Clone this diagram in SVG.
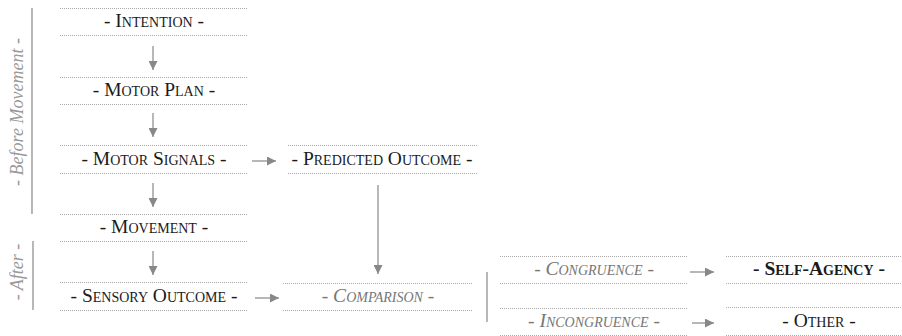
<svg xmlns="http://www.w3.org/2000/svg" width="902" height="336" viewBox="0 0 902 336">
<defs>
<marker id="ah" viewBox="0 0 10 10" refX="10" refY="5" markerWidth="9" markerHeight="9" markerUnits="userSpaceOnUse" orient="auto">
<path d="M0,0 L10,5 L0,10 z" fill="#888"/>
</marker>
<style>
.dot{stroke:#aaa;stroke-width:1;stroke-dasharray:1 1;fill:none}
.t{font-family:'Liberation Serif','DejaVu Serif','Times New Roman',serif;font-size:19.5px;font-variant:small-caps;fill:#1a1a1a;text-anchor:middle}
.i{font-style:italic;fill:#777}
.b{font-weight:bold}
.side{font-family:'Liberation Serif','DejaVu Serif','Times New Roman',serif;font-size:18px;font-style:italic;fill:#999;text-anchor:middle}
.con line{stroke:#888;stroke-width:1.2;marker-end:url(#ah)}
.bar{stroke:#888;stroke-width:1.2}
</style>
</defs>
<rect width="902" height="336" fill="#fff"/>
<g id="phase-before">
<line class="bar" x1="32" y1="8" x2="32" y2="214"/>
<text class="side" transform="translate(23,112) rotate(-90)">- Before Movement -</text>
</g>
<g id="phase-after">
<line class="bar" x1="33" y1="241" x2="33" y2="310"/>
<text class="side" transform="translate(23,272) rotate(-90)">- After -</text>
</g>
<g id="intention">
<line class="dot" x1="60" y1="8.5" x2="248" y2="8.5"/><line class="dot" x1="60" y1="35.5" x2="248" y2="35.5"/>
<text class="t" x="154" y="27">- Intention -</text>
</g>
<g id="motor-plan">
<line class="dot" x1="60" y1="77.5" x2="248" y2="77.5"/><line class="dot" x1="60" y1="104.5" x2="248" y2="104.5"/>
<text class="t" x="154" y="96">- Motor Plan -</text>
</g>
<g id="motor-signals">
<line class="dot" x1="60" y1="145.5" x2="248" y2="145.5"/><line class="dot" x1="60" y1="173.5" x2="248" y2="173.5"/>
<text class="t" x="154" y="165">- Motor Signals -</text>
</g>
<g id="movement">
<line class="dot" x1="60" y1="214.5" x2="248" y2="214.5"/><line class="dot" x1="60" y1="241.5" x2="248" y2="241.5"/>
<text class="t" x="154" y="233">- Movement -</text>
</g>
<g id="sensory-outcome">
<line class="dot" x1="60" y1="282.5" x2="248" y2="282.5"/><line class="dot" x1="60" y1="310.5" x2="248" y2="310.5"/>
<text class="t" x="154" y="302">- Sensory Outcome -</text>
</g>
<g id="predicted-outcome">
<line class="dot" x1="288" y1="145.5" x2="477" y2="145.5"/><line class="dot" x1="288" y1="173.5" x2="477" y2="173.5"/>
<text class="t" x="382" y="165">- Predicted Outcome -</text>
</g>
<g id="comparison">
<line class="dot" x1="283" y1="283.5" x2="472" y2="283.5"/><line class="dot" x1="283" y1="310.5" x2="472" y2="310.5"/>
<text class="t i" x="378" y="302">- Comparison -</text>
</g>
<g id="split">
<line class="bar" x1="487" y1="272" x2="487" y2="322"/>
</g>
<g id="congruence">
<line class="dot" x1="500" y1="256.5" x2="688" y2="256.5"/><line class="dot" x1="500" y1="283.5" x2="688" y2="283.5"/>
<text class="t i" x="594" y="275">- Congruence -</text>
</g>
<g id="incongruence">
<line class="dot" x1="500" y1="308.5" x2="688" y2="308.5"/><line class="dot" x1="500" y1="335.5" x2="688" y2="335.5"/>
<text class="t i" x="594" y="327">- Incongruence -</text>
</g>
<g id="self-agency">
<line class="dot" x1="726" y1="256.5" x2="902" y2="256.5"/><line class="dot" x1="726" y1="283.5" x2="902" y2="283.5"/>
<text class="t b" x="819" y="275">- Self-Agency -</text>
</g>
<g id="other">
<line class="dot" x1="726" y1="307.5" x2="902" y2="307.5"/><line class="dot" x1="726" y1="335.5" x2="902" y2="335.5"/>
<text class="t" x="819" y="327">- Other -</text>
</g>
<g id="connectors" class="con">
<line x1="153" y1="46" x2="153" y2="70"/>
<line x1="153" y1="113" x2="153" y2="137"/>
<line x1="153" y1="183" x2="153" y2="207"/>
<line x1="153" y1="251" x2="153" y2="275"/>
<line x1="252" y1="161" x2="276" y2="161"/>
<line x1="255" y1="298" x2="279" y2="298"/>
<line x1="378" y1="185" x2="378" y2="274"/>
<line x1="690" y1="272" x2="714" y2="272"/>
<line x1="692" y1="323" x2="714" y2="323"/>
</g>
</svg>
